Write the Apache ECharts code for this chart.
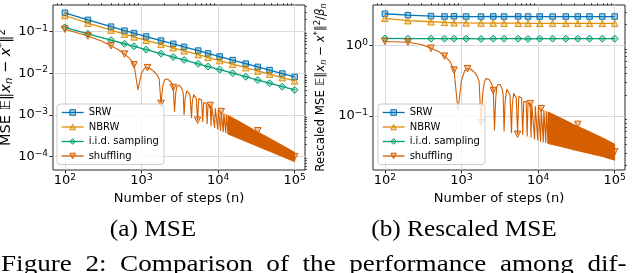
<!DOCTYPE html>
<html><head><meta charset="utf-8">
<script src="https://cdn.jsdelivr.net/npm/echarts@6/dist/echarts.min.js"></script>
<style>html,body{margin:0;padding:0;background:#fff}#c{width:640px;height:273px}</style>
</head><body><div id="c"></div>
<script>
// ---------- data ----------
const stepsMarked = [100, 200, 400, 600, 800, 1150, 1800, 2600, 3600, 5500, 7400, 10500, 15500, 23000, 33000, 47000, 69000, 100000];
const mseSRW  = [0.285, 0.192, 0.132, 0.106, 0.0926, 0.0767, 0.0613, 0.0511, 0.0433, 0.0352, 0.0302, 0.0254, 0.0209, 0.0171, 0.0143, 0.0120, 0.0099, 0.0082];
const mseNBRW = [0.245, 0.1605, 0.1095, 0.0878, 0.075, 0.0622, 0.0495, 0.0412, 0.0348, 0.0282, 0.0242, 0.0203, 0.0167, 0.0137, 0.01145, 0.0096, 0.0079, 0.0066];
const mseIID  = [0.127, 0.089, 0.063, 0.0514, 0.0445, 0.0372, 0.0297, 0.0247, 0.021, 0.017, 0.0146, 0.0123, 0.0101, 0.0083, 0.0069, 0.0058, 0.0048, 0.0040];
const rsSRW   = [2.85, 2.72, 2.64, 2.60, 2.62, 2.60, 2.60, 2.61, 2.60, 2.61, 2.60, 2.60, 2.60, 2.60, 2.60, 2.60, 2.60, 2.60];
const rsNBRW  = [2.45, 2.27, 2.19, 2.15, 2.12, 2.11, 2.10, 2.10, 2.09, 2.09, 2.08, 2.08, 2.08, 2.08, 2.08, 2.08, 2.08, 2.08];
const rsIID   = [1.27, 1.26, 1.26, 1.26, 1.26, 1.26, 1.25, 1.26, 1.26, 1.26, 1.25, 1.26, 1.26, 1.26, 1.26, 1.26, 1.26, 1.26];

const shufSteps = [100,200,300,400,500,600,700,800,900,
  1000,1100,1200,1300,1400,1500,1600,1700,1800,
  1900,2000,2100,2200,2300,2400,2500,2600,2700,
  2800,2900,3000,3100,3200,3300,3400,3500,3600,
  3700,3900,4100,4300,4500,
  4600,4800,5000,5200,5400,
  5600,6100,6300, 6500,7000,7200, 7400,7900,8100, 8300,8800,9000, 9200,9700,9900,
  10100,10600,10800, 11000,11500,11700, 11900,12400,12600, 12800,13300,13500, 13700,14200,14400];
const mseShuf = [0.115,0.079,0.060,0.046,0.037,0.029,0.023,0.016,0.004,
  0.0101,0.0134,0.0137,0.0129,0.0118,0.0105,0.0092,0.0074,0.0019,
  0.0051,0.0070,0.0075,0.0073,0.0068,0.0063,0.0056,0.0046,0.0012,
  0.0034,0.0049,0.0052,0.0052,0.0049,0.0046,0.0041,0.0034,0.0010,
  0.0024,0.0038,0.0036,0.0031,0.00085,
  0.0020,0.0031,0.0029,0.0025,0.00075,
  0.0025,0.0023,0.00068, 0.0020,0.0019,0.00060, 0.0018,0.0017,0.00055, 0.0016,0.0015,0.00049, 0.00145,0.00137,0.00045,
  0.00132,0.00125,0.000415, 0.00121,0.00116,0.00039, 0.00112,0.00107,0.00037, 0.00104,0.00100,0.00035, 0.00097,0.00094,0.00033];
const rsShuf = [1.15,1.12,1.04,0.92,0.83,0.71,0.61,0.45,0.12,
  0.32,0.44,0.47,0.47,0.44,0.41,0.37,0.31,0.081,
  0.22,0.31,0.34,0.34,0.33,0.31,0.28,0.23,0.062,
  0.18,0.26,0.28,0.29,0.28,0.26,0.24,0.20,0.060,
  0.15,0.24,0.23,0.20,0.057,
  0.14,0.21,0.21,0.18,0.055,
  0.19,0.18,0.054, 0.16,0.16,0.051, 0.155,0.15,0.0495, 0.146,0.141,0.0465, 0.139,0.135,0.0448,
  0.133,0.129,0.0431, 0.127,0.124,0.0422, 0.122,0.119,0.0415, 0.118,0.115,0.0407, 0.114,0.112,0.0396];

// dense oscillation band (upper / lower envelope) for n > ~1.3e4
const bandSteps = [13500, 20000, 30000, 50000, 70000, 100000];
const mseBandHi = [0.00098, 0.00066, 0.00043, 0.00026, 0.000184, 0.000126];
const mseBandLo = [0.00035, 0.00026, 0.00019, 0.000129, 0.0001, 0.000076];
const rsBandHi  = [0.114, 0.093, 0.0745, 0.058, 0.0487, 0.0398];
const rsBandLo  = [0.0407, 0.0368, 0.0329, 0.0288, 0.0265, 0.0235];

const shufMarkSteps = [100, 200, 400, 600, 800, 1200, 1800, 2600, 5400, 7900, 11000, 33000, 100000];
const mseShufMark = [0.115, 0.079, 0.046, 0.029, 0.016, 0.0137, 0.0019, 0.0046, 0.00075, 0.0017, 0.00121, 0.00042, 0.0001];
const rsShufMark  = [1.15, 1.12, 0.92, 0.71, 0.45, 0.47, 0.081, 0.23, 0.055, 0.15, 0.127, 0.076, 0.031];

const xTicks = [100, 1000, 10000, 100000];
const xMinor = [80, 90, 200, 300, 400, 500, 600, 700, 800, 900, 2000, 3000, 4000, 5000, 6000, 7000, 8000, 9000, 20000, 30000, 40000, 50000, 60000, 70000, 80000, 90000];
const yTicksMSE = [1e-4, 1e-3, 1e-2, 1e-1];
const yMinorMSE = [5e-5, 6e-5, 7e-5, 8e-5, 9e-5, 2e-4, 3e-4, 4e-4, 5e-4, 6e-4, 7e-4, 8e-4, 9e-4, 2e-3, 3e-3, 4e-3, 5e-3, 6e-3, 7e-3, 8e-3, 9e-3, 0.02, 0.03, 0.04, 0.05, 0.06, 0.07, 0.08, 0.09, 0.2, 0.3, 0.4];
const yTicksRS = [0.1, 1];
const yMinorRS = [0.02, 0.03, 0.04, 0.05, 0.06, 0.07, 0.08, 0.09, 0.2, 0.3, 0.4, 0.5, 0.6, 0.7, 0.8, 0.9, 2, 3];

const legendNames = ['SRW', 'NBRW', 'i.i.d. sampling', 'shuffling'];
const colors = {SRW: '#0173b2', NBRW: '#de8f05', 'i.i.d. sampling': '#029e73', shuffling: '#d55e00'};
const fills  = {SRW: 'rgba(1,115,178,0.35)', NBRW: 'rgba(222,143,5,0.35)', 'i.i.d. sampling': 'rgba(2,158,115,0.35)', shuffling: 'rgba(213,94,0,0.35)'};
const symbols = {SRW: ['rect', 0, 5.5], NBRW: ['triangle', 0, 6.5], 'i.i.d. sampling': ['diamond', 0, 7], shuffling: ['triangle', 180, 6.5]};

// ---------- chart ----------
const FONT = 'DejaVu Sans';
const X_MIN = Math.pow(10, 1.845), X_MAX = Math.pow(10, 5.135);
const grids = [
  {left: 53, top: 5, width: 252, height: 165, show: true, borderColor: '#262626', borderWidth: 1, containLabel: false, outerBoundsMode: 'none'},
  {left: 373, top: 5, width: 252, height: 165, show: true, borderColor: '#262626', borderWidth: 1, containLabel: false, outerBoundsMode: 'none'}
];
function powLabel(v) {
  const l = Math.log10(v), e = Math.round(l);
  if (Math.abs(l - e) > 1e-6) return '';
  return '{b|10}{s|' + (e < 0 ? '\u2212' + (-e) : e) + '}';
}
const tickRich = {
  b: {fontSize: 13, fontFamily: FONT, color: '#000'},
  s: {fontSize: 9, fontFamily: FONT, color: '#000', padding: [0, 0, 7, 0]}
};
function mainAxis(gi, min, max, ticks, isX) {
  return {
    type: 'log', gridIndex: gi, min: min, max: max,
    axisLine: {show: false},
    axisTick: {show: true, inside: false, length: 3.5, customValues: ticks, lineStyle: {color: '#262626', width: 1}},
    axisLabel: {show: true, customValues: ticks, formatter: powLabel, rich: tickRich, margin: isX ? 3 : 5, color: '#000'},
    splitLine: {show: true, lineStyle: {color: '#dadada', width: 1}},
    minorTick: {show: false}
  };
}
function minorAxis(gi, min, max, vals) {
  return {
    type: 'log', gridIndex: gi, min: min, max: max,
    axisLine: {show: false},
    axisTick: {show: true, inside: false, length: 2, customValues: vals, lineStyle: {color: '#262626', width: 0.8}},
    axisLabel: {show: false},
    splitLine: {show: false}
  };
}
const Y1_MIN = Math.pow(10, -4.319), Y1_MAX = Math.pow(10, -0.359);
const Y2_MIN = Math.pow(10, -1.768), Y2_MAX = Math.pow(10, 0.579);

function nameRich(fs) {
  const ss = fs * 0.7;
  return {
    t: {fontSize: fs, fontFamily: FONT, color: '#000'},
    i: {fontSize: fs, fontFamily: FONT, fontStyle: 'italic', color: '#000'},
    sub: {fontSize: ss, fontFamily: FONT, fontStyle: 'italic', color: '#000', padding: [fs * 0.45, 0, 0, 0]},
    sup: {fontSize: ss, fontFamily: FONT, color: '#000', padding: [0, 0, fs * 0.55, 0]}
  };
}
const yName1 = '{t|MSE \uD835\uDD3C\u2016}{i|x}{sub|n}{t| \u2212 }{i|x}{sup|*}{t|\u2016}{sup|2}';
const yName2 = '{t|Rescaled MSE \uD835\uDD3C\u2016}{i|x}{sub|n}{t| \u2212 }{i|x}{sup|*}{t|\u2016}{sup|2}{t|/}{i|\u03B2}{sub|n}';

const xAxes = [mainAxis(0, X_MIN, X_MAX, xTicks, true), mainAxis(1, X_MIN, X_MAX, xTicks, true),
  minorAxis(0, X_MIN, X_MAX, xMinor), minorAxis(1, X_MIN, X_MAX, xMinor)];
xAxes[0].name = 'Number of steps (n)'; xAxes[1].name = 'Number of steps (n)';
[0, 1].forEach(i => Object.assign(xAxes[i], {nameLocation: 'middle', nameGap: 19, nameTextStyle: {fontSize: 13, fontFamily: FONT, color: '#000'}}));

const yAxes = [mainAxis(0, Y1_MIN, Y1_MAX, yTicksMSE, false), mainAxis(1, Y2_MIN, Y2_MAX, yTicksRS, false),
  minorAxis(0, Y1_MIN, Y1_MAX, yMinorMSE), minorAxis(1, Y2_MIN, Y2_MAX, yMinorRS)];
Object.assign(yAxes[0], {name: yName1, nameLocation: 'middle', nameRotate: 90, nameGap: 33, nameTextStyle: {rich: nameRich(14.5)}});
Object.assign(yAxes[1], {name: yName2, nameLocation: 'middle', nameRotate: 90, nameGap: 45, nameTextStyle: {rich: nameRich(11.8)}});

function markerSeries(name, ai, steps, vals, breakLine) {
  const sym = symbols[name];
  let data = [];
  steps.forEach((n, i) => {
    data.push([n, vals[i]]);
    if (breakLine && i < steps.length - 1) data.push([n, '-']);
  });
  return {
    type: 'line', name: name, xAxisIndex: ai, yAxisIndex: ai, data: data,
    color: colors[name],
    symbol: sym[0], symbolRotate: sym[1], symbolSize: sym[2], showSymbol: true, showAllSymbol: true,
    connectNulls: false,
    lineStyle: {color: colors[name], width: 1.3},
    itemStyle: {color: fills[name], borderColor: colors[name], borderWidth: 1},
    emphasis: {disabled: true}, silent: true, z: 4, animation: false
  };
}
function shufLine(ai, vals) {
  return {
    type: 'line', name: '_shufLine' + ai, xAxisIndex: ai, yAxisIndex: ai,
    data: shufSteps.map((n, i) => [n, vals[i]]),
    symbol: 'none', showSymbol: false, lineStyle: {color: '#d55e00', width: 1.1},
    emphasis: {disabled: true}, silent: true, z: 3, animation: false
  };
}
function bandSeries(ai, hi, lo) {
  return {
    type: 'custom', name: '_band' + ai, xAxisIndex: ai, yAxisIndex: ai,
    data: bandSteps.map((n, i) => [n, hi[i], lo[i]]),
    encode: {x: 0, y: [1, 2]},
    renderItem: function (params, api) {
      if (params.dataIndex !== 0) return null;
      const pts = [];
      for (let i = 0; i < bandSteps.length; i++) pts.push(api.coord([bandSteps[i], hi[i]]));
      for (let i = bandSteps.length - 1; i >= 0; i--) pts.push(api.coord([bandSteps[i], lo[i]]));
      return {type: 'polygon', shape: {points: pts}, style: {fill: '#d55e00', stroke: '#d55e00', lineWidth: 1}};
    },
    silent: true, z: 3, animation: false
  };
}

const series = [
  markerSeries('SRW', 0, stepsMarked, mseSRW),
  markerSeries('NBRW', 0, stepsMarked, mseNBRW),
  markerSeries('i.i.d. sampling', 0, stepsMarked, mseIID),
  markerSeries('shuffling', 0, shufMarkSteps, mseShufMark, true),
  shufLine(0, mseShuf), bandSeries(0, mseBandHi, mseBandLo),
  markerSeries('SRW', 1, stepsMarked, rsSRW),
  markerSeries('NBRW', 1, stepsMarked, rsNBRW),
  markerSeries('i.i.d. sampling', 1, stepsMarked, rsIID),
  markerSeries('shuffling', 1, shufMarkSteps, rsShufMark, true),
  shufLine(1, rsShuf), bandSeries(1, rsBandHi, rsBandLo)
];

const legendData = legendNames.map(n => ({name: n, itemStyle: {color: fills[n], borderColor: colors[n], borderWidth: 1}, lineStyle: {color: colors[n], width: 1.3, opacity: 1}}));
function legendAt(left) {
  return {
    left: left, top: 104, orient: 'vertical', itemWidth: 22, itemHeight: 7, itemGap: 2.5,
    padding: [2.5, 5, 2.5, 4], backgroundColor: 'rgba(255,255,255,0.8)', borderColor: '#cccccc', borderWidth: 1, borderRadius: 3,
    textStyle: {fontSize: 10, fontFamily: FONT, color: '#000', lineHeight: 12},
    data: legendData, selectedMode: false, z: 10
  };
}

function caption(text, x, y, align, scaleX) {
  return {type: 'text', x: x, y: y, scaleX: scaleX, scaleY: 1,
    style: {text: text, font: '23px "Liberation Serif"', fill: '#000', align: align, verticalAlign: 'middle', textAlign: align, textVerticalAlign: 'middle'}};
}

const chart = echarts.init(document.getElementById('c'), null, {renderer: 'canvas'});
chart.setOption({
  animation: false,
  backgroundColor: '#fff',
  grid: grids,
  xAxis: xAxes,
  yAxis: yAxes,
  legend: [legendAt(57), legendAt(378)],
  series: series,
  graphic: [
    caption('(a) MSE', 153, 229.5, 'center', 1.1),
    caption('(b) Rescaled MSE', 464, 229.5, 'center', 1.1),
    caption('Figure\u20022:\u2002Comparison\u2002of\u2002the\u2002performance\u2002among\u2002dif-', 1, 265, 'left', 1.18)
  ]
});
</script></body></html>
